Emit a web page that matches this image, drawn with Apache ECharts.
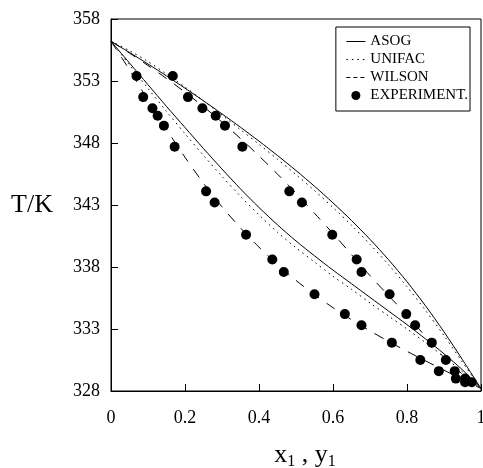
<!DOCTYPE html>
<html>
<head>
<meta charset="utf-8">
<script src="https://cdn.jsdelivr.net/npm/echarts@6/dist/echarts.min.js"></script>
<style>
  html, body { margin: 0; padding: 0; background: #fff; }
  #chart { width: 483px; height: 468px; }
</style>
</head>
<body>
<div id="chart"></div>
<script>
// liquid / vapour mole fraction grid for the model curves
const xGrid = [0, 0.05, 0.1, 0.15, 0.2, 0.25, 0.3, 0.35, 0.4, 0.45, 0.5,
               0.55, 0.6, 0.65, 0.7, 0.75, 0.8, 0.85, 0.9, 0.95, 1];

// bubble (lower) and dew (upper) temperatures, K
const asogBubble   = [356.2, 354.45, 352.7, 350.95, 349.25, 347.55, 345.9, 344.3, 342.8, 341.4, 340.1,
                      338.9, 337.75, 336.65, 335.55, 334.45, 333.35, 332.2, 331.0, 329.7, 328.2];
const asogDew      = [356.2, 355.3, 354.37, 353.41, 352.42, 351.4, 350.35, 349.27, 348.15, 346.99, 345.78,
                      344.51, 343.17, 341.75, 340.23, 338.59, 336.81, 334.87, 332.77, 330.52, 328.2];
const unifacBubble = [356.2, 354.3, 352.4, 350.55, 348.75, 347.0, 345.3, 343.7, 342.2, 340.8, 339.55,
                      338.4, 337.25, 336.2, 335.1, 334.05, 333.0, 331.9, 330.75, 329.55, 328.2];
const unifacDew    = [356.2, 355.45, 354.57, 353.56, 352.52, 351.4, 350.25, 349.07, 347.9, 346.69, 345.45,
                      344.16, 342.8, 341.37, 339.83, 338.19, 336.41, 334.5, 332.47, 330.32, 328.2];
const wilsonBubble = [356.2, 353.9, 351.45, 349.1, 346.85, 344.75, 342.85, 341.15, 339.6, 338.2, 336.92,
                      335.77, 334.72, 333.75, 332.85, 332.0, 331.2, 330.43, 329.68, 328.93, 328.2];
const wilsonDew    = [356.2, 355.25, 354.25, 353.2, 352.1, 350.93, 349.68, 348.36, 346.96, 345.49, 343.96,
                      342.33, 340.7, 339.0, 337.3, 335.7, 334.1, 332.4, 330.7, 329.35, 328.2];

// experimental T, x1, y1
const expT  = [353.4, 351.7, 350.8, 350.2, 349.4, 347.7, 344.1, 343.2, 340.6, 338.6, 337.6,
               335.8, 334.2, 333.3, 331.9, 330.5, 329.6, 329.0, 328.7];
const expX1 = [0.069, 0.087, 0.112, 0.126, 0.143, 0.172, 0.257, 0.280, 0.365, 0.436, 0.467,
               0.550, 0.632, 0.677, 0.759, 0.836, 0.886, 0.932, 0.957];
const expY1 = [0.167, 0.208, 0.247, 0.283, 0.308, 0.355, 0.482, 0.516, 0.598, 0.664, 0.677,
               0.753, 0.798, 0.822, 0.867, 0.905, 0.929, 0.957, 0.975];

const xTicks = ['0', '0.2', '0.4', '0.6', '0.8', '1'];

const serif = 'Liberation Serif';

function pairs(xs, ys) {
  return xs.map((x, i) => [x, ys[i]]);
}

function curve(name, ys, dash) {
  return {
    name: name,
    type: 'line',
    data: pairs(xGrid, ys),
    smooth: 0.3,
    symbol: 'none',
    lineStyle: { color: '#000', width: 1, type: dash },
    itemStyle: { color: '#000' },
    z: 2
  };
}

const chart = echarts.init(document.getElementById('chart'));

const option = {
  animation: false,
  grid: {
    left: 111, right: 2, top: 19, bottom: 77,
    outerBoundsMode: 'none',
    containLabel: false,
    show: true, borderColor: '#000', borderWidth: 1
  },
  legend: {
    right: 13, top: 27,
    orient: 'vertical',
    align: 'left',
    borderColor: '#000', borderWidth: 1,
    padding: [7, 2, 8, 10],
    itemWidth: 19, itemHeight: 9, itemGap: 3,
    textStyle: { fontFamily: serif, fontSize: 15, color: '#000' },
    data: [
      { name: 'ASOG', itemStyle: { opacity: 0 }, lineStyle: { width: 1 } },
      { name: 'UNIFAC', itemStyle: { opacity: 0 }, lineStyle: { width: 1 } },
      { name: 'WILSON', itemStyle: { opacity: 0 }, lineStyle: { width: 1, type: [4, 3] } },
      { name: 'EXPERIMENT.' }
    ]
  },
  xAxis: {
    type: 'value',
    min: 0, max: 1, interval: 0.2,
    name: '{v|x}{s|1}{v| , y}{s|1}',
    nameLocation: 'middle',
    nameGap: 49,
    nameTextStyle: {
      padding: [0, 0, 0, 18],
      rich: {
        v: { fontFamily: serif, fontSize: 26, color: '#000' },
        s: { fontFamily: serif, fontSize: 16, color: '#000', padding: [14, 0, 0, 0] }
      }
    },
    axisLine: { lineStyle: { color: '#000', width: 1 } },
    axisTick: { inside: true, length: 7, lineStyle: { color: '#000' } },
    axisLabel: {
      margin: 18,
      fontFamily: serif, fontSize: 18, color: '#000',
      formatter: (v) => xTicks[Math.round(v / 0.2)]
    },
    splitLine: { show: false }
  },
  yAxis: {
    type: 'value',
    min: 328, max: 358, interval: 5,
    name: 'T/K',
    nameLocation: 'middle',
    nameRotate: 0,
    nameGap: 58,
    nameTextStyle: { fontFamily: serif, fontSize: 26, color: '#000' },
    axisLine: { lineStyle: { color: '#000', width: 1 } },
    axisTick: { inside: true, length: 7, lineStyle: { color: '#000' } },
    axisLabel: { margin: 11, fontFamily: serif, fontSize: 18, color: '#000' },
    splitLine: { show: false }
  },
  series: [
    curve('ASOG', asogBubble, 'solid'),
    curve('ASOG', asogDew, 'solid'),
    curve('UNIFAC', unifacBubble, [1.5, 4]),
    curve('UNIFAC', unifacDew, [1.5, 4]),
    curve('WILSON', wilsonBubble, [10, 9]),
    curve('WILSON', wilsonDew, [10, 9]),
    {
      name: 'EXPERIMENT.',
      type: 'scatter',
      data: pairs(expX1, expT).concat(pairs(expY1, expT)),
      symbol: 'circle',
      symbolSize: 10,
      itemStyle: { color: '#000', opacity: 1 },
      z: 3
    }
  ]
};

chart.setOption(option);
</script>
</body>
</html>
